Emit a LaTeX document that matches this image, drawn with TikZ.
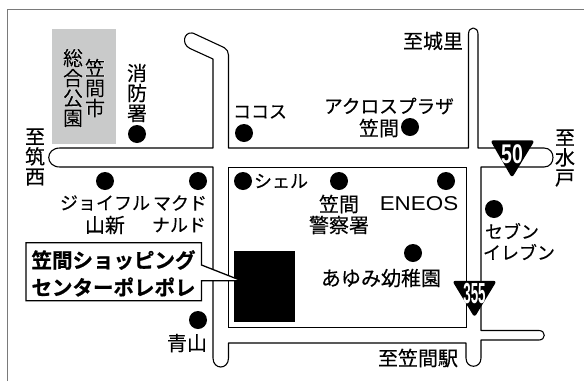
\documentclass[tikz,border=0pt]{standalone}
\usepackage{fontspec}
\setmainfont{Noto Sans CJK JP}[FakeBold=0.25]
\newfontfamily\jpbold{Noto Sans CJK JP Bold}[FakeBold=0.8]
\newfontfamily\latn[FakeStretch=1.12]{Liberation Sans}
\newfontfamily\signfont[FakeStretch=0.72]{Liberation Sans Bold}
\newfontfamily\signfontb[FakeStretch=0.46]{Liberation Sans Bold}
\newfontfamily\halofont[FakeBold=4]{Noto Sans CJK JP}
\definecolor{parkgray}{HTML}{C9CACA}
\definecolor{framegray}{HTML}{7A7A7A}
\tikzset{
  x=1pt,y=-1pt,
  road/.style={draw=black,line width=1.1pt,line join=round},
  block/.style={draw=black,line width=0.8pt,line join=miter},
  place/.style={circle,fill=black,draw=none,minimum size=18pt,inner sep=0pt},
  lab/.style={inner sep=0pt,font=\fontsize{20}{20}\selectfont,text=black},
  kata/.style={inner sep=0pt,font=\fontsize{18}{20}\selectfont,text=black},
  vlab/.style={inner sep=0pt,align=center,font=\fontsize{20}{20}\selectfont},
  halo/.style={inner sep=0pt,align=center,font=\fontsize{20}{20}\selectfont\halofont,text=white},
  sign/.style={fill=black,draw=black,line width=1.5pt,line join=round,rounded corners=2pt},
  signnum/.style={inner sep=0pt,text=white},
  callout/.style={fill=white,draw=black,line width=1.3pt,line join=miter}
}
\begin{document}
\begin{tikzpicture}
\useasboundingbox (0,0) rectangle (584,381);
\fill[white] (0,0) rectangle (584,381);
% frame
\draw[framegray,line width=1.6pt] (7.5,381) -- (7.5,9.5) -- (584,9.5);
% park
\fill[parkgray] (52,29) rectangle (116,144);
% roads
\draw[road] (213,148) -- (213,59) -- (190,48.5) .. controls (181,44) and (184,32) .. (192,33)
  .. controls (193,33) and (194,33.5) .. (196,34.5) -- (224,47.5) .. controls (227,49) and (228.5,52) .. (228.5,55) -- (228.5,148)
  -- (468.5,148) -- (468.5,34) .. controls (468.5,26) and (478,26) .. (478,34) -- (478,148) -- (544,148)
  .. controls (556,148) and (556,167) .. (544,167) -- (481,167) -- (481,330.5) -- (539,330.5)
  .. controls (546,330.5) and (546,340) .. (539,340) -- (481,340) -- (481,358)
  .. controls (481,369) and (466,369) .. (466,358) -- (466,343) -- (228.5,343) -- (228.5,358)
  .. controls (228.5,370) and (213,370) .. (213,358) -- (213,167) -- (60,167)
  .. controls (45,167) and (45,148) .. (60,148) -- cycle;
\draw[block] (228.5,327) -- (228.5,167) -- (466,167) -- (466,327) -- cycle;
% site
\fill[black] (234,251) rectangle (295,322);
% dots
\node[place] (d1) at (137,134) {};
\node[place] (d2) at (244,133) {};
\node[place] (d3) at (105,181) {};
\node[place] (d4) at (198,181) {};
\node[place] (d5) at (243,181) {};
\node[place] (d6) at (339,181) {};
\node[place] (d7) at (446,181) {};
\node[place] (d8) at (410,127) {};
\node[place] (d9) at (494,209) {};
\node[place] (d10) at (413,253) {};
\node[place] (d11) at (198,320) {};
% park labels
\node[halo] (h1) at (95,88) {笠\\間\\市};
\node[halo] (h2) at (73,88) {総\\合\\公\\園};
\node[vlab] (t1) at (95,88) {笠\\間\\市};
\node[vlab] (t2) at (73,88) {総\\合\\公\\園};
% vertical labels
\node[vlab] (t3) at (137,93) {消\\防\\署};
\node[vlab] (t4) at (35,157) {至\\筑\\西};
\node[vlab] (t5) at (565,158) {至\\水\\戸};
% horizontal labels
\node[kata] (t6) at (260,112) {ココス};
\node[kata] (t7) at (281,181) {シェル};
\node[kata,font=\fontsize{18.7}{20}\selectfont] (t8) at (389,106) {アクロスプラザ};
\node[lab] (t9) at (379,128) {笠間};
\node[lab] (t10) at (433,41) {至城里};
\node[kata] (t11) at (105,203) {ジョイフル};
\node[lab] (t12) at (105,225) {山新};
\node[kata] (t13) at (180,203) {マクド};
\node[kata] (t14) at (179,225) {ナルド};
\node[lab] (t15) at (339,204) {笠間};
\node[lab] (t16) at (339,225) {警察署};
\node[inner sep=0pt,font=\fontsize{20}{20}\selectfont\latn] (t17) at (419,204) {ENEOS};
\node[kata] (t18) at (512,231) {セブン};
\node[kata] (t19) at (519,252) {イレブン};
\node[lab] (t20) at (381,278) {あゆみ幼稚園};
\node[lab] (t21) at (418,358) {至笠間駅};
\node[lab] (t22) at (187,343) {青山};
% signs
\draw[sign] (491.5,141) -- (533.5,141) -- (512,176.5) -- cycle;
\node[signnum,font=\fontsize{27}{27}\selectfont\signfont] (s1) at (512,154) {50};
\draw[sign] (453.5,281.5) -- (495.5,281.5) -- (474.5,316) -- cycle;
\node[signnum,font=\fontsize{29}{29}\selectfont\signfontb] (s2) at (474.5,294) {355};
% callout
\draw[callout] (26,242.7) -- (201.5,242.7) -- (201.5,265) -- (241.5,280.7) -- (201.5,280.7) -- (201.5,300.7) -- (26,300.7) -- cycle;
\node[inner sep=0pt,font=\fontsize{20.5}{20}\selectfont\jpbold] (c1) at (113.5,260) {笠間ショッピング};
\node[inner sep=0pt,font=\fontsize{20.5}{20}\selectfont\jpbold] (c2) at (113.5,287) {センターポレポレ};
\end{tikzpicture}
\end{document}
